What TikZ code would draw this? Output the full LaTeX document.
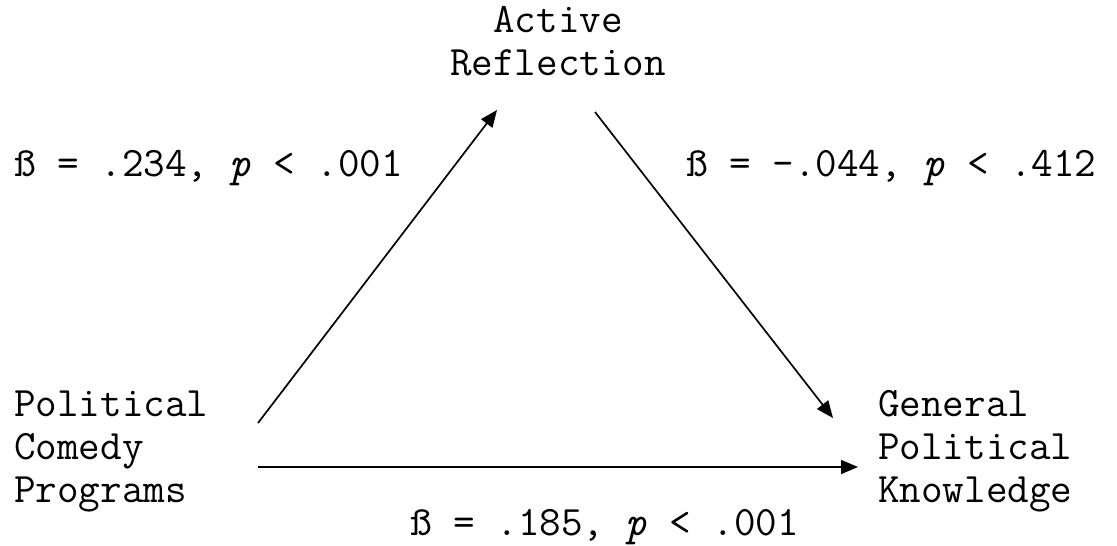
\documentclass[tikz,border=0pt]{standalone}
\usepackage{fontspec}
\usetikzlibrary{arrows.meta}
\begin{document}
\begin{tikzpicture}[x=1pt,y=-1pt,
  lbl/.style={inner sep=0pt,anchor=base west,font=\ttfamily\fontsize{41.9}{43}\selectfont},
  blk/.style={inner sep=0pt,align=left,anchor=base west,font=\ttfamily\fontsize{41.9}{43}\selectfont},
  arr/.style={line width=1.7pt,-{Triangle[length=17pt,width=14pt]}}]
\useasboundingbox (0,0) rectangle (1117,546);
\node[blk,align=center,anchor=base] (ar) at (558,75) {Active\\Reflection};
\node[blk] (pcp) at (14,502) {Political\\Comedy\\Programs};
\node[blk] (gpk) at (878,502) {General\\Political\\Knowledge};
\node[lbl] (l1) at (14,176) {ß = .234, \textit{p} < .001};
\node[lbl] (l2) at (686,176) {ß = -.044, \textit{p} < .412};
\node[lbl] (l3) at (410,535) {ß = .185, \textit{p} < .001};
\coordinate (a1s) at (258,423);
\coordinate (a1e) at (497,110);
\coordinate (a2s) at (595,112);
\coordinate (a2e) at (833,418);
\coordinate (a3s) at (258,467);
\coordinate (a3e) at (858,467);
\draw[arr] (a1s) -- (a1e);
\draw[arr] (a2s) -- (a2e);
\draw[arr] (a3s) -- (a3e);
\end{tikzpicture}
\end{document}
